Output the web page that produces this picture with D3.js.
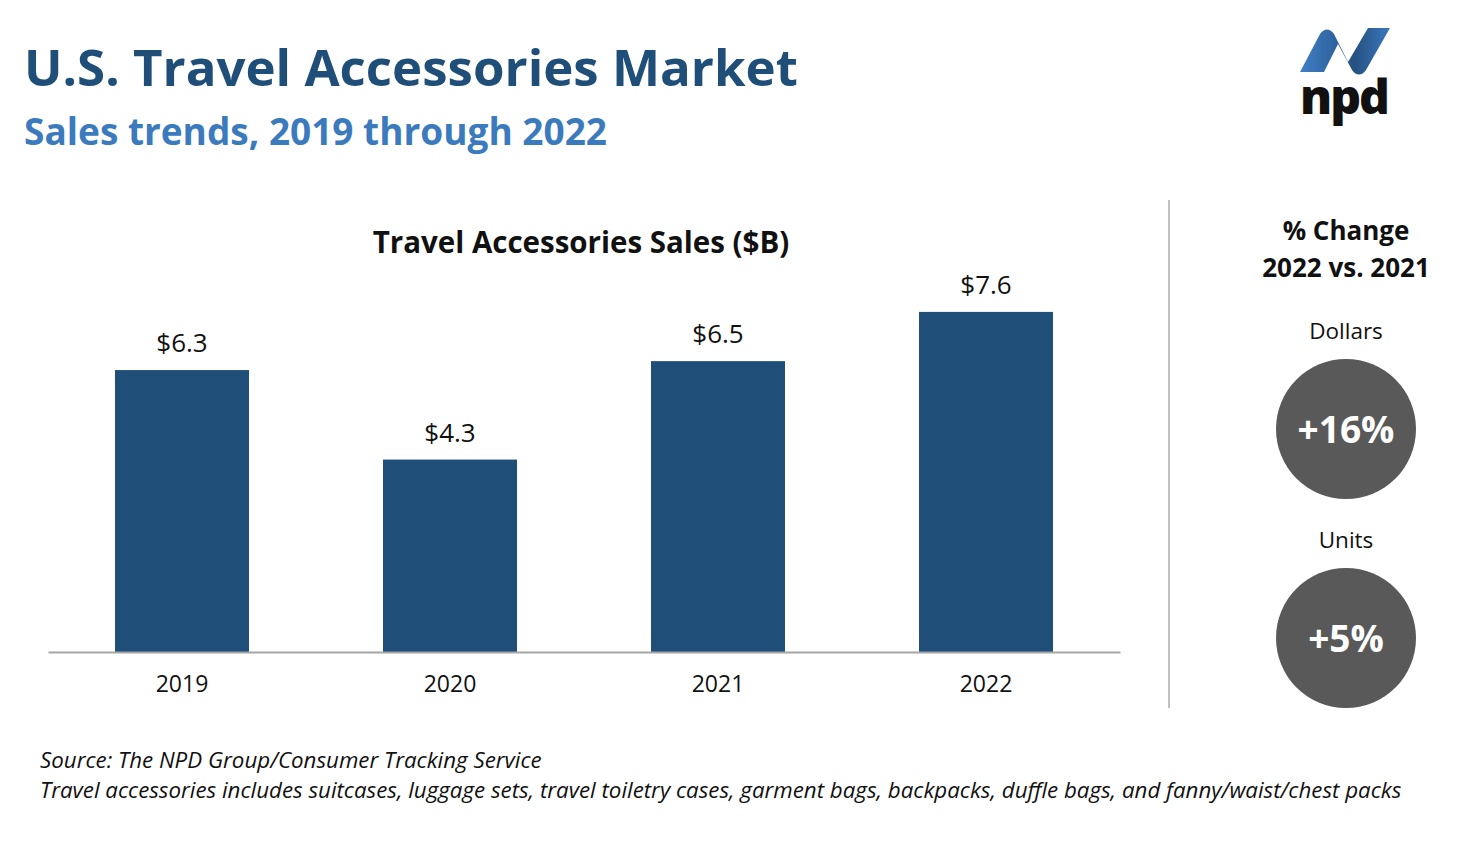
<!DOCTYPE html>
<html>
<head>
<meta charset="utf-8">
<script src="https://cdn.jsdelivr.net/npm/d3@7"></script>
<style>
  body { margin: 0; background: #fff; }
  svg text { font-family: "Open Sans", Lato, sans-serif; }
</style>
</head>
<body>
<div id="chart"></div>
<script>
const years = ["2019", "2020", "2021", "2022"]
const sales = [6.3, 4.3, 6.5, 7.6]
const changeLabels = ["Dollars", "Units"]
const changeValues = ["+16%", "+5%"]
const notes = [
    "Source: The NPD Group/Consumer Tracking Service",
    "Travel accessories includes suitcases, luggage sets, travel toiletry cases, garment bags, backpacks, duffle bags, and fanny/waist/chest packs"
]

const W = 1472, H = 841
const svg = d3.select("#chart").append("svg")
    .attr("width", W)
    .attr("height", H)

// headings
svg.append("text")
    .attr("x", 24).attr("y", 86)
    .attr("fill", "#1f4e79")
    .attr("font-size", 51).attr("font-weight", 700)
    .text("U.S. Travel Accessories Market")

svg.append("text")
    .attr("x", 24).attr("y", 145)
    .attr("fill", "#3b7bbd")
    .attr("font-size", 37).attr("font-weight", 700)
    .text("Sales trends, 2019 through 2022")

// logo
const grad = svg.append("defs").append("linearGradient")
    .attr("id", "ribbon")
    .attr("x1", "0%").attr("x2", "100%")
grad.append("stop").attr("offset", "0%").attr("stop-color", "#3f7fc6")
grad.append("stop").attr("offset", "45%").attr("stop-color", "#2d5f98")
grad.append("stop").attr("offset", "60%").attr("stop-color", "#25507f")
grad.append("stop").attr("offset", "100%").attr("stop-color", "#3a78bf")

const logo = svg.append("g").attr("transform", "translate(1296,24)")
logo.append("path")
    .attr("d", "M4,48 L24,10 C28,4 34,4 38,10 L52,38 L72,4 L94,4 L70,46 C66,52 60,52 56,46 L42,20 L28,48 Z")
    .attr("fill", "url(#ribbon)")
logo.append("text")
    .attr("x", 48).attr("y", 90)
    .attr("text-anchor", "middle")
    .attr("font-size", 48).attr("font-weight", 800)
    .attr("fill", "#111")
    .attr("letter-spacing", -2)
    .text("npd")

// bar chart
const x = d3.scaleBand()
    .domain(years)
    .range([48, 1120])
    .paddingInner(0.5)
    .paddingOuter(0.25)

const y = d3.scaleLinear()
    .domain([0, 8])
    .range([652, 294])

svg.append("text")
    .attr("x", 581).attr("y", 253)
    .attr("text-anchor", "middle")
    .attr("font-size", 29.5).attr("font-weight", 700)
    .attr("fill", "#111")
    .text("Travel Accessories Sales ($B)")

svg.selectAll("rect.bar")
    .data(sales)
    .enter()
    .append("rect")
    .attr("class", "bar")
    .attr("x", (d, i) => x(years[i]))
    .attr("y", d => y(d))
    .attr("width", x.bandwidth())
    .attr("height", d => y(0) - y(d))
    .attr("fill", "#1f4e79")

svg.selectAll("text.value")
    .data(sales)
    .enter()
    .append("text")
    .attr("class", "value")
    .attr("x", (d, i) => x(years[i]) + x.bandwidth() / 2)
    .attr("y", d => y(d) - 18)
    .attr("text-anchor", "middle")
    .attr("font-size", 26)
    .attr("fill", "#111")
    .text(d => "$" + d.toFixed(1))

const xAxis = d3.axisBottom(x).tickSize(0).tickPadding(24)
const gx = svg.append("g")
    .attr("transform", "translate(0," + y(0) + ")")
    .call(xAxis)
gx.select(".domain").attr("stroke", "#a6a6a6").attr("stroke-width", 2)
gx.selectAll("text")
    .attr("font-size", 23)
    .attr("fill", "#111")
    .style("font-family", "'Open Sans', Lato, sans-serif")

// divider
svg.append("line")
    .attr("x1", 1169).attr("x2", 1169)
    .attr("y1", 200).attr("y2", 708)
    .attr("stroke", "#bfbfbf").attr("stroke-width", 2)

// % change panel
const cx = 1346
svg.append("text")
    .attr("x", cx).attr("y", 240)
    .attr("text-anchor", "middle")
    .attr("font-size", 26).attr("font-weight", 700)
    .attr("fill", "#111")
    .text("% Change")
svg.append("text")
    .attr("x", cx).attr("y", 277)
    .attr("text-anchor", "middle")
    .attr("font-size", 26).attr("font-weight", 700)
    .attr("fill", "#111")
    .text("2022 vs. 2021")

const rows = d3.scaleLinear().domain([0, 1]).range([429, 638])

const badge = svg.selectAll("g.badge")
    .data(changeValues)
    .enter()
    .append("g")
    .attr("class", "badge")
    .attr("transform", (d, i) => "translate(" + cx + "," + rows(i) + ")")

badge.append("text")
    .attr("y", -90)
    .attr("text-anchor", "middle")
    .attr("font-size", 22.5)
    .attr("fill", "#111")
    .text((d, i) => changeLabels[i])

badge.append("circle")
    .attr("r", 70)
    .attr("fill", "#595959")

badge.append("text")
    .attr("y", 14)
    .attr("text-anchor", "middle")
    .attr("font-size", 37).attr("font-weight", 700)
    .attr("fill", "#fff")
    .text(d => d)

// footnotes
svg.selectAll("text.note")
    .data(notes)
    .enter()
    .append("text")
    .attr("class", "note")
    .attr("x", 40)
    .attr("y", (d, i) => 768 + i * 30)
    .attr("font-size", 22.3)
    .attr("font-style", "italic")
    .attr("fill", "#111")
    .text(d => d)
</script>
</body>
</html>
